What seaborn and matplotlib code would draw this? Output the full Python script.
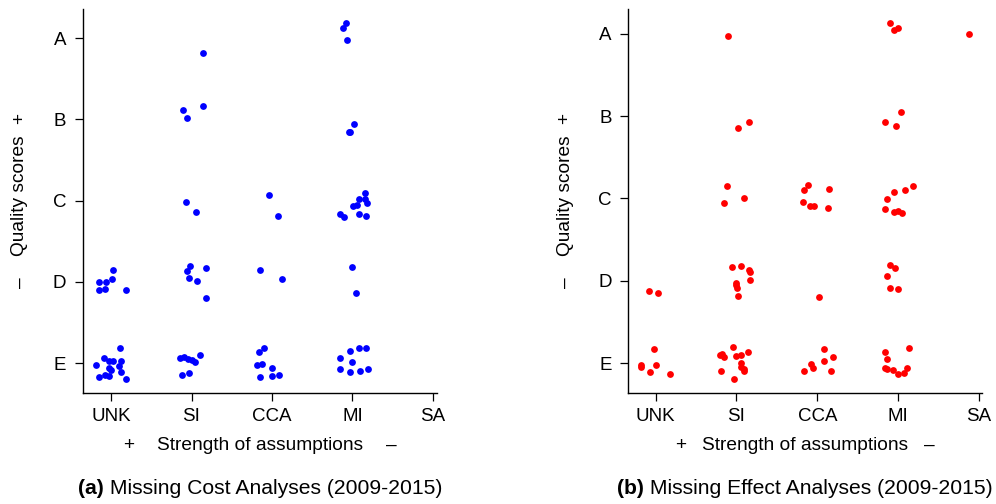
import numpy as np
import pandas as pd
import matplotlib
matplotlib.use("Agg")
import matplotlib.pyplot as plt
import seaborn as sns

# Analysis approaches (x axis) and quality grades (y axis)
methods = ["UNK", "SI", "CCA", "MI", "SA"]
grades = ["E", "D", "C", "B", "A"]

# Missing cost analyses: (method, grade, number of studies) groups
cost_groups = [
    ("UNK", "D", 7), ("UNK", "E", 14),
    ("SI", "A", 1), ("SI", "B", 3), ("SI", "C", 2), ("SI", "D", 6), ("SI", "E", 8),
    ("CCA", "C", 2), ("CCA", "D", 2), ("CCA", "E", 8),
    ("MI", "A", 3), ("MI", "B", 3), ("MI", "C", 10), ("MI", "D", 2), ("MI", "E", 9),
]
cost_dx = [
    -0.154, -0.066, 0.025, 0.008, -0.145, -0.075, 0.186,
    0.116, -0.087, -0.029, 0.021, 0.120, -0.186, 0.104, -0.029, 0.000, 0.128, -0.154, -0.075, -0.021, 0.182,
    0.145,
    -0.103, -0.058, 0.145,
    -0.066, 0.050,
    -0.020, -0.058, 0.174, -0.025, 0.066, 0.174,
    -0.137, -0.095, -0.046, 0.000, 0.046, 0.108, -0.124, -0.037,
    -0.037, 0.078,
    -0.153, 0.128,
    -0.095, -0.161, -0.182, -0.120, -0.004, -0.149, 0.000, 0.083,
    -0.083, -0.116, -0.066,
    0.017, -0.046, -0.033,
    0.153, 0.079, 0.153, 0.178, 0.012, 0.058, -0.161, -0.103, 0.079, 0.166,
    0.000, 0.046,
    0.087, 0.174, -0.033, -0.149, 0.000, -0.149, 0.191, -0.025, 0.095,
]
cost_dy = [
    -0.002, -0.002, 0.145, 0.034, -0.101, -0.089, -0.101,
    0.185, 0.066, 0.029, 0.029, 0.025, -0.025, -0.037, -0.062, -0.086, -0.111, -0.172, -0.148, -0.160, -0.197,
    -0.190,
    0.116, 0.017, 0.165,
    -0.017, -0.140,
    0.198, 0.133, 0.170, 0.047, 0.010, -0.200,
    0.062, 0.070, 0.053, 0.041, 0.012, 0.098, -0.148, -0.127,
    0.069, -0.190,
    0.145, 0.034,
    0.185, 0.135, -0.025, -0.012, -0.062, -0.172, -0.160, -0.148,
    0.187, 0.126, -0.022,
    -0.057, -0.155, -0.155,
    0.094, 0.020, 0.020, -0.030, -0.067, -0.054, -0.165, -0.202, -0.165, -0.190,
    0.182, -0.138,
    0.185, 0.185, 0.148, 0.062, 0.012, -0.074, -0.074, -0.111, -0.099,
]

# Missing effect analyses: (method, grade, number of studies) groups
effect_groups = [
    ("UNK", "D", 2), ("UNK", "E", 6),
    ("SI", "A", 1), ("SI", "B", 2), ("SI", "C", 3), ("SI", "D", 9), ("SI", "E", 13),
    ("CCA", "C", 7), ("CCA", "D", 1), ("CCA", "E", 7),
    ("MI", "A", 3), ("MI", "B", 3), ("MI", "C", 8), ("MI", "D", 5), ("MI", "E", 9),
    ("SA", "A", 1),
]
effect_dx = [
    -0.087, 0.033,
    -0.021, -0.178, -0.178, 0.008, -0.070, 0.177,
    -0.108,
    0.020, 0.161,
    -0.119, -0.157, 0.087,
    -0.050, 0.062, 0.156, 0.168, 0.173, -0.012, -0.012, 0.012, 0.016,
    -0.045, 0.140, -0.198, -0.182, -0.157, -0.009, 0.050, 0.062, 0.062, 0.087, -0.186, 0.099, -0.030,
    -0.120, -0.161, 0.145, -0.177, -0.095, -0.045, 0.132,
    0.021,
    0.087, 0.190, 0.078, -0.078, -0.053, -0.165, 0.165,
    -0.099, -0.050, -0.007,
    0.033, -0.168, -0.025,
    0.186, 0.087, -0.045, -0.131, -0.161, -0.050, 0.000, 0.050,
    -0.099, -0.041, -0.131, -0.094, -0.004,
    0.132, -0.165, -0.136, -0.168, -0.131, -0.057, 0.107, 0.000, 0.074,
    -0.127,
]
effect_dy = [
    -0.125, -0.149,
    0.170, -0.024, -0.045, -0.024, -0.109, -0.134,
    -0.024,
    -0.143, -0.070,
    0.152, -0.055, 0.006,
    0.167, 0.179, 0.131, 0.106, 0.009, -0.027, -0.052, -0.088, -0.185,
    0.195, 0.134, 0.097, 0.113, 0.073, 0.085, 0.097, 0.000, -0.049, -0.073, -0.097, -0.097, -0.195,
    0.164, 0.103, 0.116, -0.043, -0.091, -0.091, -0.116,
    -0.198,
    0.170, 0.069, 0.024, -0.012, -0.061, -0.097, -0.097,
    0.134, 0.049, 0.073,
    0.052, -0.070, -0.119,
    0.152, 0.103, 0.079, -0.006, -0.128, -0.164, -0.152, -0.176,
    0.191, 0.155, 0.058, -0.088, -0.100,
    0.182, 0.134, 0.049, -0.061, -0.069, -0.085, -0.061, -0.134, -0.122,
    0.000,
]


def build_frame(groups, dx, dy):
    method = [m for m, g, n in groups for _ in range(n)]
    grade = [g for m, g, n in groups for _ in range(n)]
    df = pd.DataFrame({"method": method, "grade": grade, "dx": dx, "dy": dy})
    df["x"] = df["method"].map(methods.index) + df["dx"]
    df["y"] = df["grade"].map(grades.index) + df["dy"]
    return df


cost = build_frame(cost_groups, cost_dx, cost_dy)
effect = build_frame(effect_groups, effect_dx, effect_dy)

sns.set_theme(style="ticks")
plt.rcParams["font.family"] = ["Liberation Sans", "DejaVu Sans"]

W, H = 996, 504
fig = plt.figure(figsize=(W / 100, H / 100), dpi=100)


def px_axes(x0, y0, x1, y1):
    return fig.add_axes([x0 / W, 1 - y1 / H, (x1 - x0) / W, (y1 - y0) / H])


def ftext(x, y, s, **kw):
    return fig.text(x / W, 1 - y / H, s, **kw)


panels = [
    dict(df=cost, color="blue", box=(83, 9, 437, 393), xlim=(-0.348, 4.05),
         ylim=(-0.369, 4.357), ylab_x=20, sign_gap=131, tag="(a)",
         caption=" Missing Cost Analyses (2009-2015)"),
    dict(df=effect, color="red", box=(628.3, 9.3, 981.7, 392.7), xlim=(-0.339, 4.035),
         ylim=(-0.361, 4.30), ylab_x=565, sign_gap=124, tag="(b)",
         caption=" Missing Effect Analyses (2009-2015)"),
]

label_kw = dict(fontsize=13.8, color="black", ha="center", va="center")
captions = []

for p in panels:
    ax = px_axes(*p["box"])
    sns.scatterplot(data=p["df"], x="x", y="y", ax=ax, color=p["color"], s=24,
                    linewidth=0, legend=False)
    ax.set_xlim(*p["xlim"])
    ax.set_ylim(*p["ylim"])
    ax.set_xticks(range(len(methods)))
    ax.set_xticklabels(methods)
    ax.set_yticks(range(len(grades)))
    ax.set_yticklabels(grades)
    ax.set_xlabel("")
    ax.set_ylabel("")
    for side in ("top", "right"):
        ax.spines[side].set_visible(False)
    for side in ("left", "bottom"):
        ax.spines[side].set_color("black")
        ax.spines[side].set_linewidth(1.0)
    ax.tick_params(axis="both", direction="out", length=6, width=0.9,
                   color="black", labelsize=13.5, labelcolor="black")
    ax.tick_params(axis="x", pad=5)
    ax.tick_params(axis="y", pad=6)
    ax.set_facecolor("white")

    # axis titles with direction signs
    x0, y0, x1, y1 = p["box"]
    cx = (x0 + x1) / 2
    gap = p["sign_gap"]
    ftext(cx - gap, 445, "+", **label_kw)
    ftext(cx, 445, "Strength of assumptions", **label_kw)
    ftext(cx + gap, 445, "–", **label_kw)

    yx = p["ylab_x"]
    ftext(yx, 118, "+", rotation=90, **label_kw)
    ftext(yx, 196, "Quality scores", rotation=90, **label_kw)
    ftext(yx, 283, "–", rotation=90, **label_kw)

    t_tag = ftext(cx, 488, p["tag"], fontsize=15.2, fontweight="bold",
                  ha="left", va="center", color="black")
    t_cap = ftext(cx, 488, p["caption"], fontsize=15.2, ha="left",
                  va="center", color="black")
    captions.append((cx, t_tag, t_cap))

# centre each two-part caption under its panel
fig.canvas.draw()
renderer = fig.canvas.get_renderer()
for cx, t_tag, t_cap in captions:
    w_tag = t_tag.get_window_extent(renderer).width
    w_cap = t_cap.get_window_extent(renderer).width
    start = cx - (w_tag + w_cap) / 2
    t_tag.set_x(start / W)
    t_cap.set_x((start + w_tag) / W)

fig.savefig("out.png", dpi=100, facecolor="white")
